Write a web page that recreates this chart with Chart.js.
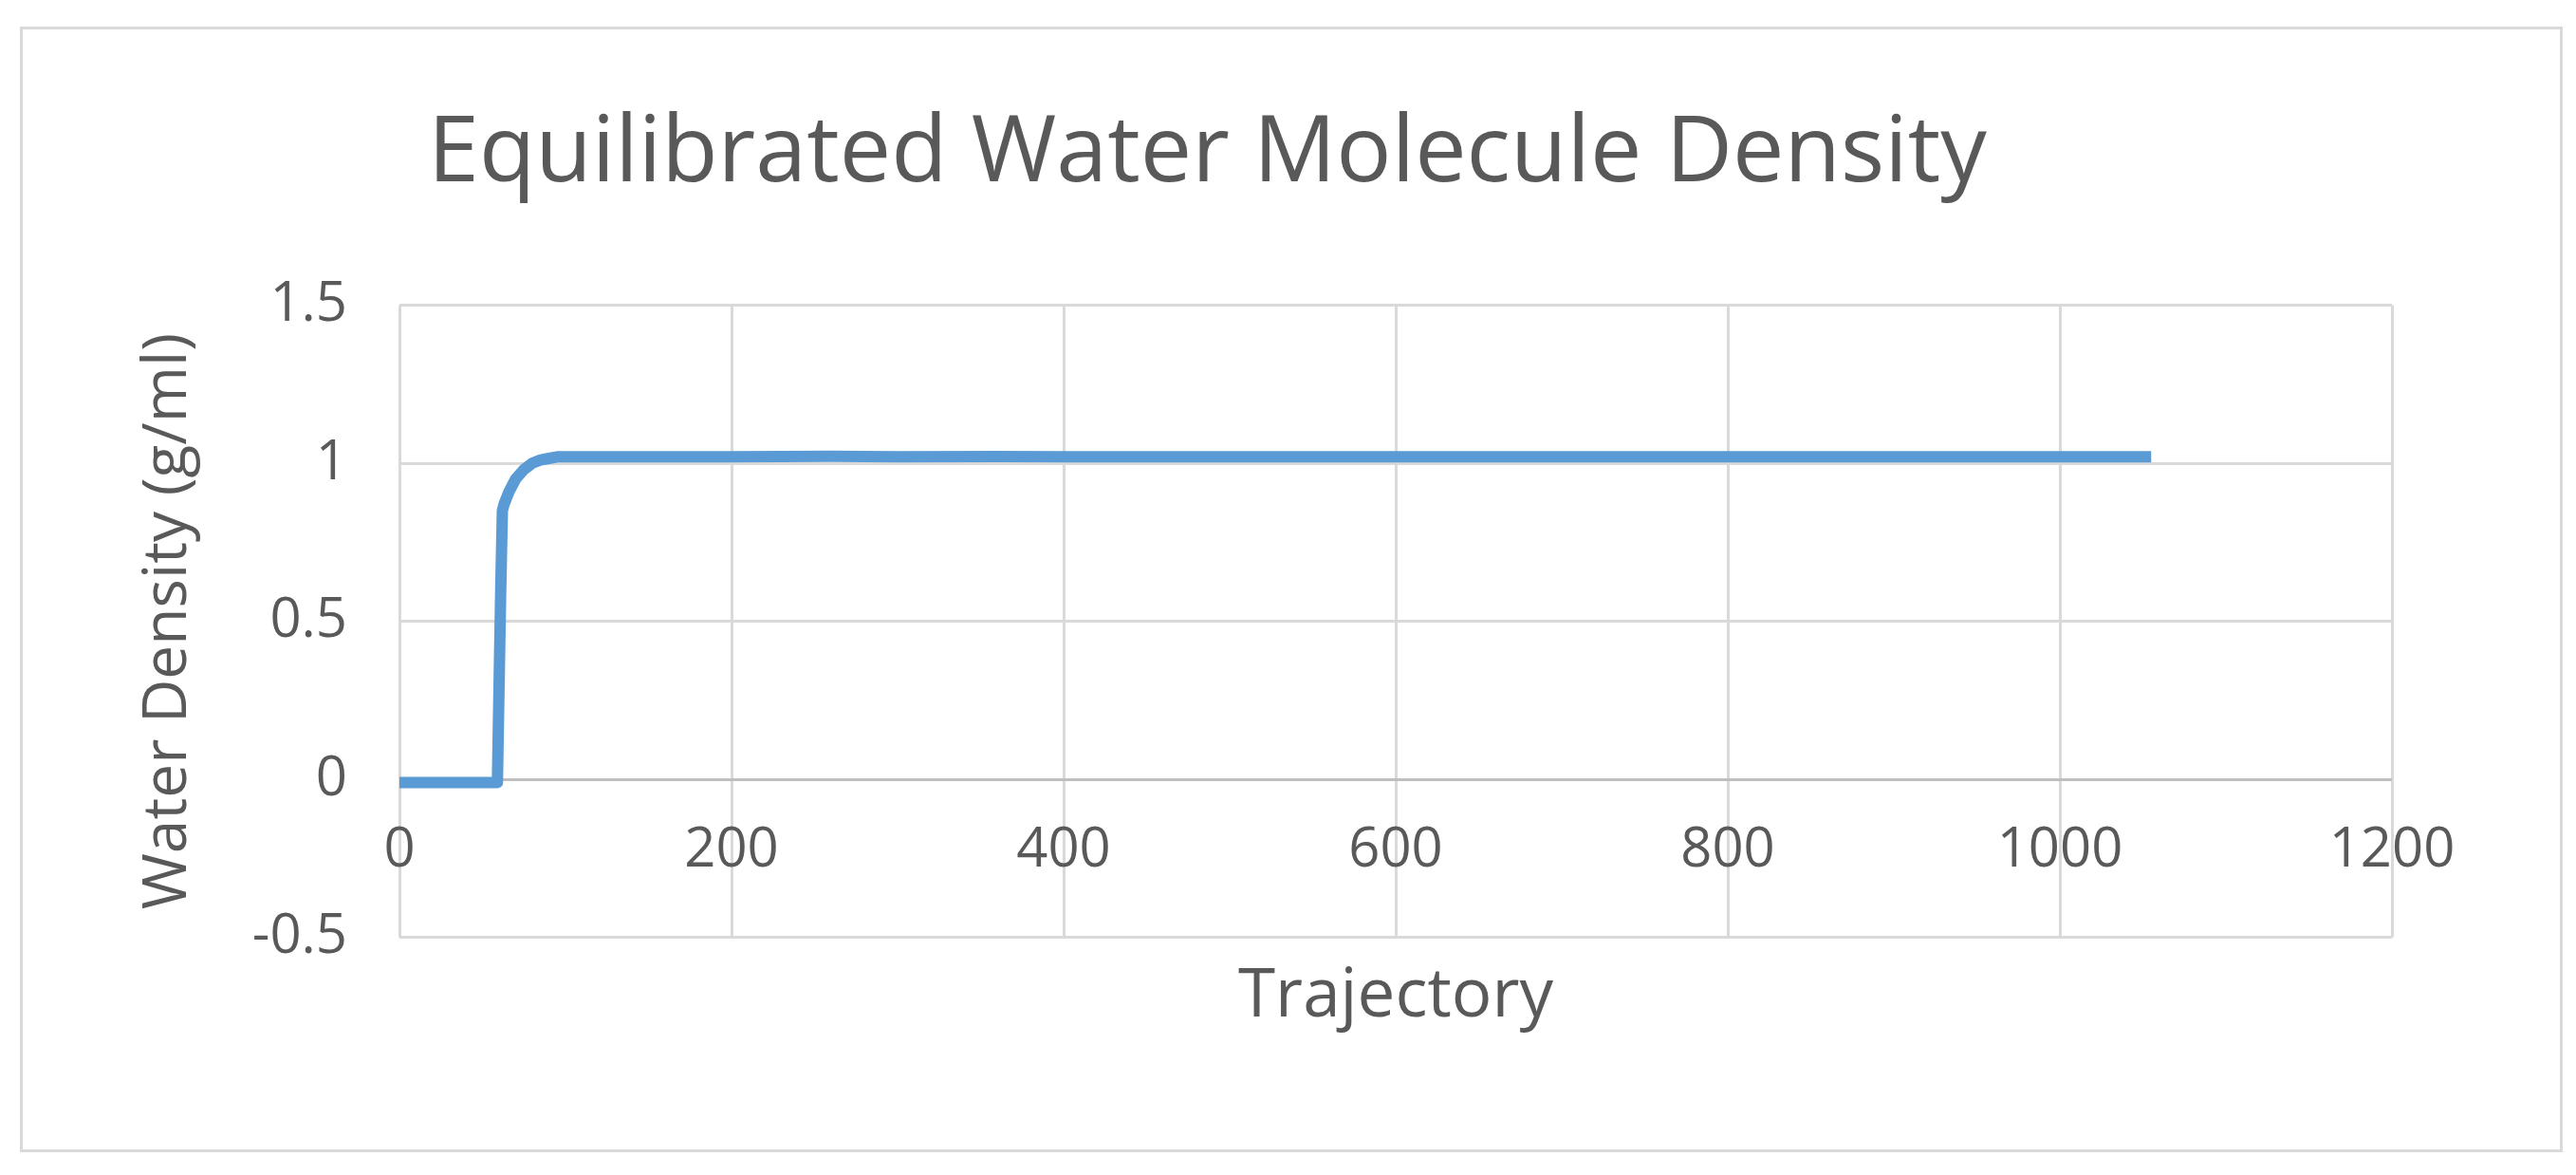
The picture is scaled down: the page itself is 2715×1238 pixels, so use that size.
<!DOCTYPE html>
<html>
<head>
<meta charset="utf-8">
<script src="https://cdn.jsdelivr.net/npm/chart.js@4"></script>
<style>
  html, body { margin: 0; padding: 0; background: #fff; }
  #wrap { position: absolute; left: 21px; top: 28px; width: 2674px; height: 1180px; border: 3px solid #d9d9d9; }
</style>
</head>
<body>
<div id="wrap"><canvas id="densityChart"></canvas></div>
<script>
const chartTitle = "Equilibrated Water Molecule Density";
const xTitle = "Trajectory";
const yTitle = "Water Density (g/ml)";

// trajectory frame -> density
const trajX = [0, 10, 20, 30, 40, 50, 59, 60, 61, 62, 63, 66, 70, 75, 80, 85, 90, 95, 120, 200, 260, 300, 360, 400, 500, 600, 660, 700, 800, 900, 1000, 1055];
const trajY = [-0.01, -0.01, -0.01, -0.01, -0.01, -0.01, -0.01, 0.3, 0.6, 0.85, 0.87, 0.91, 0.95, 0.98, 1.0, 1.01, 1.015, 1.02, 1.02, 1.02, 1.022, 1.02, 1.021, 1.02, 1.02, 1.02, 1.02, 1.02, 1.02, 1.02, 1.02, 1.02];

const xTicks = [0, 200, 400, 600, 800, 1000, 1200];
const yTicks = [-0.5, 0, 0.5, 1, 1.5];

const textColor = '#595959';
const font = "'Open Sans', sans-serif";

const ctx = document.getElementById("densityChart");

new Chart(ctx, {
  type: 'scatter',
  data: {
    datasets: [{
      label: 'Density',
      data: trajX.map((x, i) => ({ x, y: trajY[i] })),
      showLine: true,
      borderColor: '#5b9bd5',
      borderWidth: 12,
      pointRadius: 0,
      tension: 0,
      borderJoinStyle: 'round',
      borderCapStyle: 'butt'
    }]
  },
  options: {
    responsive: true,
    maintainAspectRatio: false,
    animation: false,
    layout: { padding: { left: 0, right: 177, top: 0, bottom: 0 } },
    plugins: {
      legend: { display: false },
      tooltip: { enabled: false },
      title: {
        display: true,
        text: chartTitle,
        color: textColor,
        font: { family: font, size: 97, weight: 'normal' },
        padding: { top: 74, bottom: 100 }
      }
    },
    scales: {
      x: {
        type: 'linear',
        min: 0,
        max: 1200,
        position: { y: 0 },
        afterBuildTicks: (axis) => { axis.ticks = xTicks.map(v => ({ value: v })); },
        ticks: { color: textColor, font: { family: font, size: 58 }, padding: 40, callback: (v) => String(v) },
        grid: { color: '#d9d9d9', lineWidth: 3, drawTicks: false },
        border: { display: false }
      },
      x2: {
        type: 'linear',
        position: 'bottom',
        min: 0,
        max: 1200,
        ticks: { display: false },
        grid: { display: false, drawTicks: false },
        border: { display: false },
        title: {
          display: true,
          text: xTitle,
          color: textColor,
          font: { family: font, size: 71 },
          padding: { top: 20, bottom: 118 }
        }
      },
      y: {
        min: -0.5,
        max: 1.5,
        afterBuildTicks: (axis) => { axis.ticks = yTicks.map(v => ({ value: v })); },
        afterFit: (axis) => { axis.width = 397; },
        ticks: { color: textColor, font: { family: font, size: 58 }, padding: 55, callback: (v) => String(v) },
        grid: {
          color: (c) => c.tick && c.tick.value === 0 ? '#bfbfbf' : '#d9d9d9',
          lineWidth: 3,
          drawTicks: false
        },
        border: { display: false },
        title: {
          display: true,
          text: yTitle,
          color: textColor,
          font: { family: font, size: 64 },
          padding: { top: 115, bottom: 0 }
        }
      }
    }
  }
});
</script>
</body>
</html>
